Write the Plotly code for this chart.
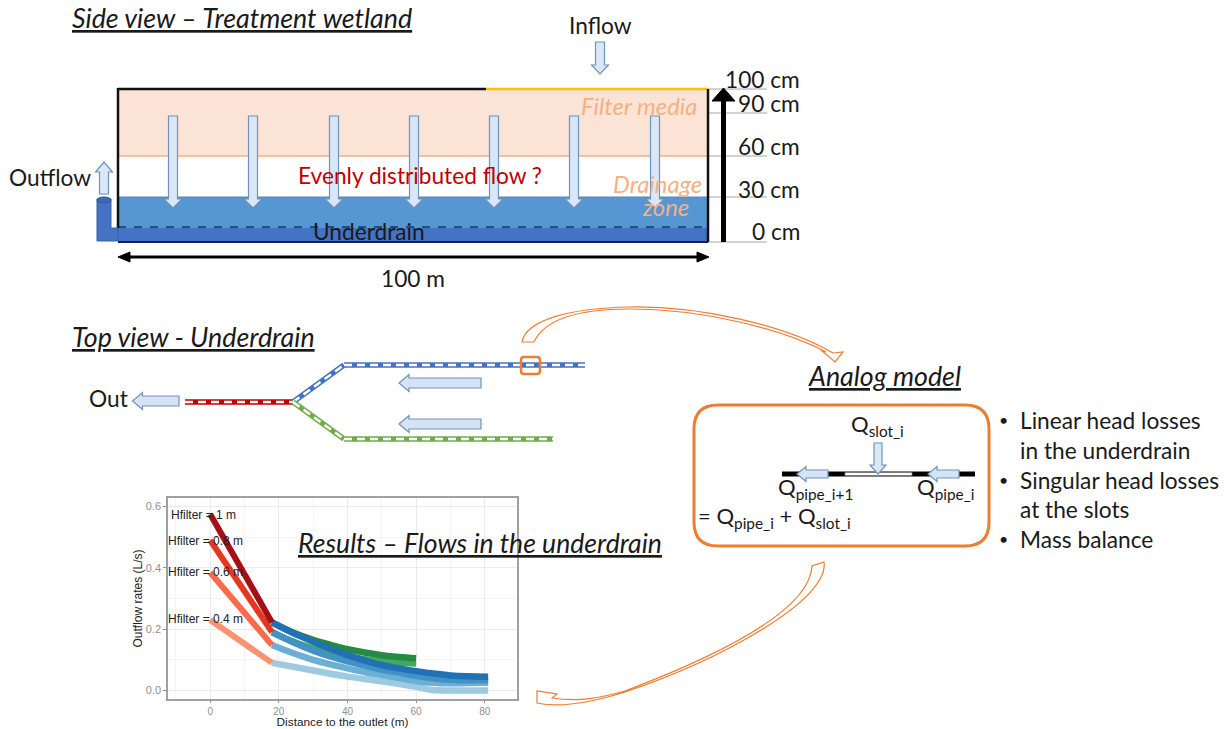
import re
import plotly.graph_objects as go

# ---- data: results inset ----
red_x = [0, 18]
red_1m = [0.575, 0.222]
red_08m = [0.49, 0.19]
red_06m = [0.385, 0.148]
red_04m = [0.23, 0.09]

blue_x = [18, 24, 30, 35, 40, 45, 50, 55, 60, 65, 70, 75, 81]
blue_1m = [0.222, 0.188, 0.159, 0.136, 0.115, 0.098, 0.083, 0.072, 0.063, 0.055, 0.049, 0.046, 0.045]
blue_08m = [0.19, 0.158, 0.13, 0.111, 0.095, 0.081, 0.068, 0.058, 0.048, 0.04, 0.035, 0.033, 0.033]
blue_06m = [0.148, 0.122, 0.1, 0.085, 0.072, 0.06, 0.05, 0.04, 0.031, 0.025, 0.023, 0.024, 0.025]
blue_04m_x = [18, 30, 40, 50, 60, 64, 70, 81]
blue_04m = [0.09, 0.065, 0.045, 0.03, 0.012, 0.002, 0.0, 0.0]

green_x = [18, 24, 30, 35, 40, 45, 50, 55, 60]
green_1m = [0.222, 0.19, 0.165, 0.149, 0.135, 0.124, 0.115, 0.109, 0.105]
green_08m = [0.19, 0.16, 0.137, 0.122, 0.11, 0.102, 0.095, 0.09, 0.088]

hfilter_labels = ["Hfilter = 1 m", "Hfilter = 0.8 m", "Hfilter = 0.6 m", "Hfilter = 0.4 m"]
hfilter_label_x = [-2.1, -1.4, -1.4, -1.4]
hfilter_label_y = [0.573, 0.488, 0.388, 0.233]

depth_labels = ["100 cm", "90 cm", "60 cm", "30 cm", "0 cm"]
depth_label_y = [80, 104, 146, 189, 232]
depth_line_y = [89, 113, 156, 197, 242]
flow_arrow_x = [173, 253, 334, 414, 494, 574, 655]

FONT = "Lato"
ORANGE = "#ED7D31"
AF = "#DAE8F6"
AL = "#6F93BE"
W, H = 1230, 729


def px(x):
    return x / W


def py(y):
    return 1 - y / H


fig = go.Figure()


def line_tr(x, y, c, w=6.5, shape="spline"):
    fig.add_trace(go.Scatter(x=x, y=y, mode="lines", line=dict(color=c, width=w, shape=shape),
                             hoverinfo="skip", showlegend=False))


line_tr(green_x, green_08m, "#41AB5D")
line_tr(green_x, green_1m, "#238B45")
line_tr(blue_04m_x, blue_04m, "#9ECAE1")
line_tr(blue_x, blue_06m, "#6BAED6")
line_tr(blue_x, blue_08m, "#4292C6")
line_tr(blue_x, blue_1m, "#2171B5")
line_tr(red_x, red_04m, "#FC9272", 6, "linear")
line_tr(red_x, red_06m, "#FB6A4A", 6, "linear")
line_tr(red_x, red_08m, "#E6361F", 6, "linear")
line_tr(red_x, red_1m, "#A50F15", 6, "linear")

shapes = []


def rect(x0, y0, x1, y1, fill, line=None, w=0):
    shapes.append(dict(type="rect", xref="paper", yref="paper", x0=px(x0), y0=py(y0), x1=px(x1), y1=py(y1),
                       fillcolor=fill, line=dict(color=line or fill, width=w), layer="above"))


def seg(x0, y0, x1, y1, c, w, dash=None):
    shapes.append(dict(type="line", xref="paper", yref="paper", x0=px(x0), y0=py(y0), x1=px(x1), y1=py(y1),
                       line=dict(color=c, width=w, dash=dash or "solid"), layer="above"))


def path(d, fill="rgba(0,0,0,0)", c=None, w=1):
    d2 = re.sub(r"(-?[\d.]+),(-?[\d.]+)", lambda m: f"{px(float(m[1])):.5f},{py(float(m[2])):.5f}", d)
    shapes.append(dict(type="path", xref="paper", yref="paper", path=d2, fillcolor=fill,
                       line=dict(color=c or fill, width=w), layer="above"))


def poly(pts, fill, c=None, w=1):
    path("M" + " L".join(f"{a},{b}" for a, b in pts) + " Z", fill, c, w)


def arrow_v(x, y0, y1, sw=9, hw=18, hl=9, fill=AF, c=AL):
    s = 1 if y1 > y0 else -1
    poly([(x - sw / 2, y0), (x + sw / 2, y0), (x + sw / 2, y1 - s * hl), (x + hw / 2, y1 - s * hl),
          (x, y1), (x - hw / 2, y1 - s * hl), (x - sw / 2, y1 - s * hl)], fill, c, 1.2)


def arrow_l(x_tip, x_tail, y, sw=10, hw=17, hl=10, fill="#D5E3F3", c=AL):
    poly([(x_tail, y - sw / 2), (x_tail, y + sw / 2), (x_tip + hl, y + sw / 2), (x_tip + hl, y + hw / 2),
          (x_tip, y), (x_tip + hl, y - hw / 2), (x_tip + hl, y - sw / 2)], fill, c, 1.2)


# ---- side view ----
rect(118, 89, 708, 156, "#FBE3D6")
rect(118, 197, 708, 228, "#5596D3")
rect(118, 228, 708, 241, "#4472C4")
seg(118, 156, 708, 156, "#F4B183", 1.5)
seg(118, 197, 708, 197, "#5B86B0", 1)
seg(118, 227, 708, 227, "#1F4E79", 2, "8px,8px")
seg(118, 242, 708, 242, "#10205A", 2)
for yy in depth_line_y:
    seg(708, yy, 767, yy, "#C4C4C4", 1.3)
seg(118, 89, 486, 89, "#111111", 2.5)
seg(486, 89, 708, 89, "#FFC000", 2.5)
seg(118, 88, 118, 228, "#111111", 2.5)
seg(708, 89, 708, 242, "#111111", 2.5)
# outlet pipe
poly([(97, 199), (111, 199), (111, 228), (118, 228), (118, 241), (97, 241)], "#4472C4", "#3A62AC", 1)
shapes.append(dict(type="circle", xref="paper", yref="paper", x0=px(97), x1=px(111), y0=py(197), y1=py(203),
                   fillcolor="#3F69B8", line=dict(color="#2F528F", width=1), layer="above"))
# length and height arrows
seg(128, 257, 699, 257, "#000000", 3)
poly([(118, 257), (130, 252), (130, 262)], "#000000")
poly([(709, 257), (697, 252), (697, 262)], "#000000")
seg(723.5, 242, 723.5, 100, "#000000", 5)
poly([(723.5, 88), (735, 101), (712, 101)], "#000000")

for fx in flow_arrow_x:
    arrow_v(fx, 116, 208)
arrow_v(600, 42, 74, hw=17)
arrow_v(104, 194, 162, hw=17, hl=10)

# ---- top view pipes ----
for xs, ys, c in [
    ([185, 293], [402, 402], "#C00000"),
    ([293, 344, 585], [402, 365, 365], "#4472C4"),
    ([293, 344, 553], [402, 439, 439], "#70AD47"),
]:
    for i in range(len(xs) - 1):
        seg(xs[i], ys[i], xs[i + 1], ys[i + 1], c, 5.5)
        seg(xs[i], ys[i], xs[i + 1], ys[i + 1], "#FFFFFF", 2.5, "8px,5px")
arrow_l(132.5, 179, 401)
arrow_l(399, 481, 383)
arrow_l(399, 481, 424)
path("M524,357 L537,357 Q540,357 540,360 L540,371 Q540,374 537,374 L524,374 Q521,374 521,371 L521,360 Q521,357 524,357 Z",
     c=ORANGE, w=2.5)

# ---- curved arrows ----
path("M522,342 C526,320 570,308 630,307 C700,306 785,325 833,353 L843,352 L835,362 L821,350 L826,352 "
     "C780,328 700,309 630,309 C580,309 545,318 534,342 Z", fill="#FFFFFF", c=ORANGE, w=1.2)
path("M824,562 C830,600 720,660 625,692 C590,703 560,708 537,703 L537,691 L557,694 L552,698 "
     "C580,702 600,698 625,691 C720,655 810,610 812,566 Z", fill="#FFFFFF", c=ORANGE, w=1.2)

# ---- analog model ----
path("M718,405 L965,405 Q989,405 989,429 L989,522 Q989,546 965,546 L718,546 Q694,546 694,522 L694,429 Q694,405 718,405 Z",
     fill="#FFFFFF", c=ORANGE, w=3)
seg(782, 474, 975, 474, "#000000", 5)
rect(845, 472.5, 912, 475.5, "#FFFFFF", "#777777", 0.8)
arrow_l(797, 828, 474, sw=8, hw=15, hl=9)
arrow_l(928, 959, 474, sw=8, hw=15, hl=9)
arrow_v(878, 443, 474, sw=8, hw=16, hl=9)

annos = []


def txt(t, x, y, size=22.7, color="#1A1A1A", anchor="left", style="normal", under=False):
    f = dict(family=FONT, size=size, color=color, style=style)
    if under:
        f["lineposition"] = "under"
    annos.append(dict(text=t, x=px(x), y=py(y), xref="paper", yref="paper", xanchor=anchor, yanchor="middle",
                      showarrow=False, font=f, borderpad=0, borderwidth=0))


txt("Side view – Treatment wetland", 72, 18, 26.8, style="italic", under=True)
txt("Top view - Underdrain", 72, 337, 26.8, style="italic", under=True)
txt("Analog model", 808, 376, 26.8, style="italic", under=True)
txt("Results – Flows in the underdrain", 298, 543, 26.6, style="italic", under=True)
txt("Inflow", 600, 26, anchor="center")
txt("Outflow", 9, 177)
txt("Evenly distributed flow ?", 298, 176, color="#C00000")
txt("Filter media", 581, 106, 23.8, color="#F4B183", style="italic")
txt("Drainage", 613, 184, 23.8, color="#F4B183", style="italic")
txt("zone", 642, 207, 23.8, color="#F4B183", style="italic")
txt("Underdrain", 313, 231)
txt("100 m", 413, 278, anchor="center")
txt("Out", 89, 399)
for lab, ly in zip(depth_labels, depth_label_y):
    txt(lab, 800, ly, anchor="right")
txt("Q<sub>slot_i</sub>", 851, 425, 22)
txt("Q<sub>pipe_i+1</sub>", 778, 488, 22)
txt("Q<sub>pipe_i</sub>", 917, 488, 22)
txt("= Q<sub>pipe_i</sub> + Q<sub>slot_i</sub>", 698, 517, 22)
for t, yy in [("Linear head losses", 420), ("in the underdrain", 450), ("Singular head losses", 480),
              ("at the slots", 509), ("Mass balance", 539)]:
    txt(t, 1020, yy)
for yy in [419, 479, 538]:
    txt("•", 1003, yy, 16, anchor="center")

# inset labels in data coordinates
for lab, xv, yv in zip(hfilter_labels, hfilter_label_x, hfilter_label_y):
    annos.append(dict(text=lab, x=xv, y=yv, xref="x", yref="y",
                      xanchor="center", yanchor="middle", showarrow=False,
                      font=dict(family="Liberation Sans", size=12, color="#222222")))

fig.update_layout(
    width=W, height=H, margin=dict(l=0, r=0, t=0, b=0),
    paper_bgcolor="#FFFFFF", plot_bgcolor="#FFFFFF", showlegend=False,
    shapes=shapes, annotations=annos,
    font=dict(family="Liberation Sans"),
    xaxis=dict(domain=[168 / W, 517 / W], range=[-12.3, 89.4], tickvals=[0, 20, 40, 60, 80],
               ticks="outside", ticklen=2, tickcolor="#8F8F8F", tickfont=dict(size=10, color="#8F8F8F"),
               showgrid=True, gridcolor="#EBEBEB", gridwidth=1, zeroline=False,
               minor=dict(tickvals=[-10, 10, 30, 50, 70], showgrid=True, gridcolor="#F4F4F4", gridwidth=0.6, ticks=""),
               showline=True, mirror=True, linecolor="#A0A0A0", linewidth=1.5,
               title=dict(text="Distance to the outlet (m)", font=dict(size=11.8, color="#222222"), standoff=3)),
    yaxis=dict(domain=[1 - 699 / H, 1 - 498 / H], range=[-0.028, 0.628], tickvals=[0, 0.2, 0.4, 0.6],
               tickformat=".1f", ticks="outside", ticklen=3, tickcolor="#8F8F8F",
               tickfont=dict(size=11, color="#8F8F8F"),
               showgrid=True, gridcolor="#EBEBEB", gridwidth=1, zeroline=False,
               minor=dict(tickvals=[0.1, 0.3, 0.5], showgrid=True, gridcolor="#F4F4F4", gridwidth=0.6, ticks=""),
               showline=True, mirror=True, linecolor="#A0A0A0", linewidth=1.5,
               title=dict(text="Outflow rates (L/s)", font=dict(size=12, color="#222222"), standoff=1)),
)

fig.write_html("out.html", config=dict(displayModeBar=False),
               post_script="document.body.style.margin='0';document.body.style.overflow='hidden';window.dispatchEvent(new Event('resize'));")
